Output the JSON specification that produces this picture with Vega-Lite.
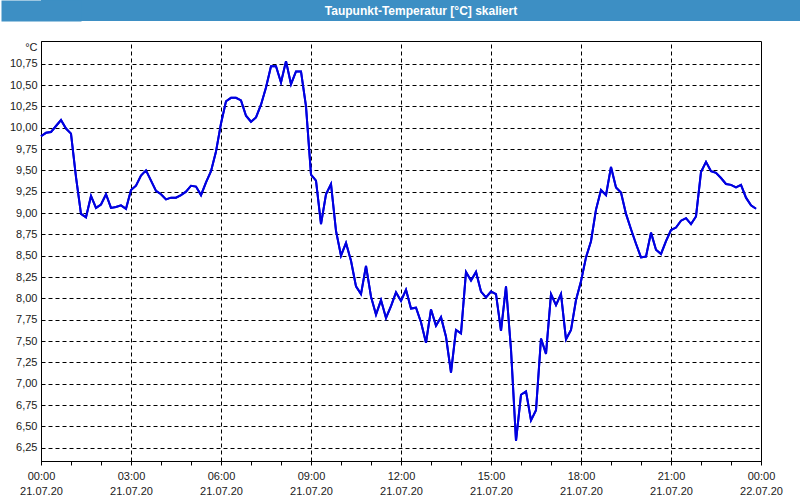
{
  "$schema": "https://vega.github.io/schema/vega-lite/v6.json",
  "padding": 0,
  "background": "#ffffff",
  "columns": 1,
  "align": "none",
  "spacing": 19,
  "config": {
    "axis": {
      "labelFont": "Liberation Sans",
      "labelFontSize": 11,
      "labelColor": "#1a1a1a",
      "titleFont": "Liberation Sans",
      "titleFontSize": 11,
      "titleColor": "#1a1a1a",
      "titleFontWeight": "normal"
    }
  },
  "concat": [
    {
      "width": 760,
      "height": 21,
      "view": {"fill": "#3d8fc4", "stroke": null},
      "data": {"values": [{"title": "Taupunkt-Temperatur [°C] skaliert"}]},
      "mark": {"type": "text", "font": "Liberation Sans", "fontSize": 12, "fontWeight": "bold", "color": "#ffffff"},
      "encoding": {
        "text": {"field": "title", "type": "nominal"},
        "y": {
          "field": "title",
          "type": "nominal",
          "axis": {"title": null, "labels": false, "ticks": false, "grid": false, "domain": true, "domainColor": "#3d8fc4", "domainWidth": 80}
        }
      }
    },
    {
      "width": 720,
      "height": 420,
      "view": {"fill": "#ffffff", "stroke": "#000000"},
      "data": {"values": [
        {"t": "2020-07-21T00:00:00Z", "v": 9.90},
        {"t": "2020-07-21T00:10:00Z", "v": 9.94},
        {"t": "2020-07-21T00:20:00Z", "v": 9.95},
        {"t": "2020-07-21T00:30:00Z", "v": 10.02},
        {"t": "2020-07-21T00:40:00Z", "v": 10.09},
        {"t": "2020-07-21T00:50:00Z", "v": 9.99},
        {"t": "2020-07-21T01:00:00Z", "v": 9.93},
        {"t": "2020-07-21T01:10:00Z", "v": 9.42},
        {"t": "2020-07-21T01:20:00Z", "v": 8.99},
        {"t": "2020-07-21T01:30:00Z", "v": 8.95},
        {"t": "2020-07-21T01:40:00Z", "v": 9.20},
        {"t": "2020-07-21T01:50:00Z", "v": 9.06},
        {"t": "2020-07-21T02:00:00Z", "v": 9.10},
        {"t": "2020-07-21T02:10:00Z", "v": 9.22},
        {"t": "2020-07-21T02:20:00Z", "v": 9.06},
        {"t": "2020-07-21T02:30:00Z", "v": 9.07},
        {"t": "2020-07-21T02:40:00Z", "v": 9.09},
        {"t": "2020-07-21T02:50:00Z", "v": 9.05},
        {"t": "2020-07-21T03:00:00Z", "v": 9.27},
        {"t": "2020-07-21T03:10:00Z", "v": 9.32},
        {"t": "2020-07-21T03:20:00Z", "v": 9.44},
        {"t": "2020-07-21T03:30:00Z", "v": 9.50},
        {"t": "2020-07-21T03:40:00Z", "v": 9.38},
        {"t": "2020-07-21T03:50:00Z", "v": 9.26},
        {"t": "2020-07-21T04:00:00Z", "v": 9.22},
        {"t": "2020-07-21T04:10:00Z", "v": 9.16},
        {"t": "2020-07-21T04:20:00Z", "v": 9.18},
        {"t": "2020-07-21T04:30:00Z", "v": 9.18},
        {"t": "2020-07-21T04:40:00Z", "v": 9.21},
        {"t": "2020-07-21T04:50:00Z", "v": 9.25},
        {"t": "2020-07-21T05:00:00Z", "v": 9.32},
        {"t": "2020-07-21T05:10:00Z", "v": 9.31},
        {"t": "2020-07-21T05:20:00Z", "v": 9.21},
        {"t": "2020-07-21T05:30:00Z", "v": 9.36},
        {"t": "2020-07-21T05:40:00Z", "v": 9.49},
        {"t": "2020-07-21T05:50:00Z", "v": 9.72},
        {"t": "2020-07-21T06:00:00Z", "v": 10.05},
        {"t": "2020-07-21T06:10:00Z", "v": 10.31},
        {"t": "2020-07-21T06:20:00Z", "v": 10.35},
        {"t": "2020-07-21T06:30:00Z", "v": 10.35},
        {"t": "2020-07-21T06:40:00Z", "v": 10.32},
        {"t": "2020-07-21T06:50:00Z", "v": 10.14},
        {"t": "2020-07-21T07:00:00Z", "v": 10.07},
        {"t": "2020-07-21T07:10:00Z", "v": 10.12},
        {"t": "2020-07-21T07:20:00Z", "v": 10.27},
        {"t": "2020-07-21T07:30:00Z", "v": 10.47},
        {"t": "2020-07-21T07:40:00Z", "v": 10.72},
        {"t": "2020-07-21T07:50:00Z", "v": 10.72},
        {"t": "2020-07-21T08:00:00Z", "v": 10.53},
        {"t": "2020-07-21T08:10:00Z", "v": 10.78},
        {"t": "2020-07-21T08:20:00Z", "v": 10.51},
        {"t": "2020-07-21T08:30:00Z", "v": 10.66},
        {"t": "2020-07-21T08:40:00Z", "v": 10.66},
        {"t": "2020-07-21T08:50:00Z", "v": 10.25},
        {"t": "2020-07-21T09:00:00Z", "v": 9.45},
        {"t": "2020-07-21T09:10:00Z", "v": 9.38},
        {"t": "2020-07-21T09:20:00Z", "v": 8.87},
        {"t": "2020-07-21T09:30:00Z", "v": 9.22},
        {"t": "2020-07-21T09:40:00Z", "v": 9.34},
        {"t": "2020-07-21T09:50:00Z", "v": 8.79},
        {"t": "2020-07-21T10:00:00Z", "v": 8.50},
        {"t": "2020-07-21T10:10:00Z", "v": 8.65},
        {"t": "2020-07-21T10:20:00Z", "v": 8.44},
        {"t": "2020-07-21T10:30:00Z", "v": 8.14},
        {"t": "2020-07-21T10:40:00Z", "v": 8.05},
        {"t": "2020-07-21T10:50:00Z", "v": 8.38},
        {"t": "2020-07-21T11:00:00Z", "v": 8.02},
        {"t": "2020-07-21T11:10:00Z", "v": 7.81},
        {"t": "2020-07-21T11:20:00Z", "v": 7.98},
        {"t": "2020-07-21T11:30:00Z", "v": 7.77},
        {"t": "2020-07-21T11:40:00Z", "v": 7.91},
        {"t": "2020-07-21T11:50:00Z", "v": 8.07},
        {"t": "2020-07-21T12:00:00Z", "v": 7.97},
        {"t": "2020-07-21T12:10:00Z", "v": 8.10},
        {"t": "2020-07-21T12:20:00Z", "v": 7.88},
        {"t": "2020-07-21T12:30:00Z", "v": 7.89},
        {"t": "2020-07-21T12:40:00Z", "v": 7.72},
        {"t": "2020-07-21T12:50:00Z", "v": 7.48},
        {"t": "2020-07-21T13:00:00Z", "v": 7.87},
        {"t": "2020-07-21T13:10:00Z", "v": 7.68},
        {"t": "2020-07-21T13:20:00Z", "v": 7.78},
        {"t": "2020-07-21T13:30:00Z", "v": 7.55},
        {"t": "2020-07-21T13:40:00Z", "v": 7.13},
        {"t": "2020-07-21T13:50:00Z", "v": 7.63},
        {"t": "2020-07-21T14:00:00Z", "v": 7.59},
        {"t": "2020-07-21T14:10:00Z", "v": 8.31},
        {"t": "2020-07-21T14:20:00Z", "v": 8.21},
        {"t": "2020-07-21T14:30:00Z", "v": 8.31},
        {"t": "2020-07-21T14:40:00Z", "v": 8.08},
        {"t": "2020-07-21T14:50:00Z", "v": 8.01},
        {"t": "2020-07-21T15:00:00Z", "v": 8.08},
        {"t": "2020-07-21T15:10:00Z", "v": 8.05},
        {"t": "2020-07-21T15:20:00Z", "v": 7.62},
        {"t": "2020-07-21T15:30:00Z", "v": 8.14},
        {"t": "2020-07-21T15:40:00Z", "v": 7.40},
        {"t": "2020-07-21T15:50:00Z", "v": 6.33},
        {"t": "2020-07-21T16:00:00Z", "v": 6.87},
        {"t": "2020-07-21T16:10:00Z", "v": 6.91},
        {"t": "2020-07-21T16:20:00Z", "v": 6.57},
        {"t": "2020-07-21T16:30:00Z", "v": 6.69},
        {"t": "2020-07-21T16:40:00Z", "v": 7.53},
        {"t": "2020-07-21T16:50:00Z", "v": 7.35},
        {"t": "2020-07-21T17:00:00Z", "v": 8.05},
        {"t": "2020-07-21T17:10:00Z", "v": 7.92},
        {"t": "2020-07-21T17:20:00Z", "v": 8.05},
        {"t": "2020-07-21T17:30:00Z", "v": 7.52},
        {"t": "2020-07-21T17:40:00Z", "v": 7.63},
        {"t": "2020-07-21T17:50:00Z", "v": 7.98},
        {"t": "2020-07-21T18:00:00Z", "v": 8.20},
        {"t": "2020-07-21T18:10:00Z", "v": 8.48},
        {"t": "2020-07-21T18:20:00Z", "v": 8.67},
        {"t": "2020-07-21T18:30:00Z", "v": 9.04},
        {"t": "2020-07-21T18:40:00Z", "v": 9.27},
        {"t": "2020-07-21T18:50:00Z", "v": 9.21},
        {"t": "2020-07-21T19:00:00Z", "v": 9.54},
        {"t": "2020-07-21T19:10:00Z", "v": 9.30},
        {"t": "2020-07-21T19:20:00Z", "v": 9.24},
        {"t": "2020-07-21T19:30:00Z", "v": 8.99},
        {"t": "2020-07-21T19:40:00Z", "v": 8.81},
        {"t": "2020-07-21T19:50:00Z", "v": 8.64},
        {"t": "2020-07-21T20:00:00Z", "v": 8.48},
        {"t": "2020-07-21T20:10:00Z", "v": 8.49},
        {"t": "2020-07-21T20:20:00Z", "v": 8.77},
        {"t": "2020-07-21T20:30:00Z", "v": 8.57},
        {"t": "2020-07-21T20:40:00Z", "v": 8.52},
        {"t": "2020-07-21T20:50:00Z", "v": 8.67},
        {"t": "2020-07-21T21:00:00Z", "v": 8.80},
        {"t": "2020-07-21T21:10:00Z", "v": 8.83},
        {"t": "2020-07-21T21:20:00Z", "v": 8.91},
        {"t": "2020-07-21T21:30:00Z", "v": 8.94},
        {"t": "2020-07-21T21:40:00Z", "v": 8.87},
        {"t": "2020-07-21T21:50:00Z", "v": 8.96},
        {"t": "2020-07-21T22:00:00Z", "v": 9.48},
        {"t": "2020-07-21T22:10:00Z", "v": 9.60},
        {"t": "2020-07-21T22:20:00Z", "v": 9.49},
        {"t": "2020-07-21T22:30:00Z", "v": 9.47},
        {"t": "2020-07-21T22:40:00Z", "v": 9.41},
        {"t": "2020-07-21T22:50:00Z", "v": 9.34},
        {"t": "2020-07-21T23:00:00Z", "v": 9.33},
        {"t": "2020-07-21T23:10:00Z", "v": 9.30},
        {"t": "2020-07-21T23:20:00Z", "v": 9.33},
        {"t": "2020-07-21T23:30:00Z", "v": 9.18},
        {"t": "2020-07-21T23:40:00Z", "v": 9.09},
        {"t": "2020-07-21T23:50:00Z", "v": 9.05}
      ]},
      "encoding": {
        "y": {
          "field": "v",
          "type": "quantitative",
          "scale": {"domain": [6.094, 11.016], "nice": false, "zero": false},
          "axis": {
            "title": "°C",
            "titleAngle": 0,
            "titleAlign": "right",
            "titleBaseline": "middle",
            "titleX": -4,
            "titleY": 6,
            "minExtent": 40,
            "values": [6.25, 6.5, 6.75, 7, 7.25, 7.5, 7.75, 8, 8.25, 8.5, 8.75, 9, 9.25, 9.5, 9.75, 10, 10.25, 10.5, 10.75],
            "labelExpr": "replace(format(datum.value, '.2f'), '.', ',')",
            "ticks": false,
            "labelPadding": 4,
            "domainColor": "#000000",
            "gridColor": "#000000",
            "gridDash": [4, 3]
          }
        }
      },
      "layer": [
        {
          "mark": {"type": "line", "color": "#0000e0", "strokeWidth": 2},
          "encoding": {
            "x": {
              "field": "t",
              "type": "temporal",
              "scale": {"type": "utc", "domain": [1595289600000, 1595376000000], "nice": false},
              "axis": {
                "title": null,
                "orient": "bottom",
                "grid": false,
                "values": [1595289600000, 1595293200000, 1595296800000, 1595300400000, 1595304000000, 1595307600000, 1595311200000, 1595314800000, 1595318400000, 1595322000000, 1595325600000, 1595329200000, 1595332800000, 1595336400000, 1595340000000, 1595343600000, 1595347200000, 1595350800000, 1595354400000, 1595358000000, 1595361600000, 1595365200000, 1595368800000, 1595372400000, 1595376000000],
                "tickSize": 4,
                "tickColor": "#000000",
                "domainColor": "#000000",
                "labelExpr": "utchours(datum.value) % 3 == 0 ? [utcFormat(datum.value, '%H:%M'), utcFormat(datum.value, '%d.%m.%y')] : ''",
                "labelFlush": false,
                "labelPadding": 5,
                "labelLineHeight": 15
              }
            }
          }
        },
        {
          "mark": {"type": "line", "color": "#0000e0", "strokeWidth": 2},
          "encoding": {
            "x": {
              "field": "t",
              "type": "temporal",
              "axis": {
                "title": null,
                "orient": "top",
                "grid": true,
                "gridColor": "#000000",
                "gridDash": [4, 3],
                "values": [1595289600000, 1595300400000, 1595311200000, 1595322000000, 1595332800000, 1595343600000, 1595354400000, 1595365200000, 1595376000000],
                "ticks": false,
                "labels": false,
                "domain": false
              }
            }
          }
        }
      ],
      "resolve": {"axis": {"x": "independent"}}
    }
  ]
}
